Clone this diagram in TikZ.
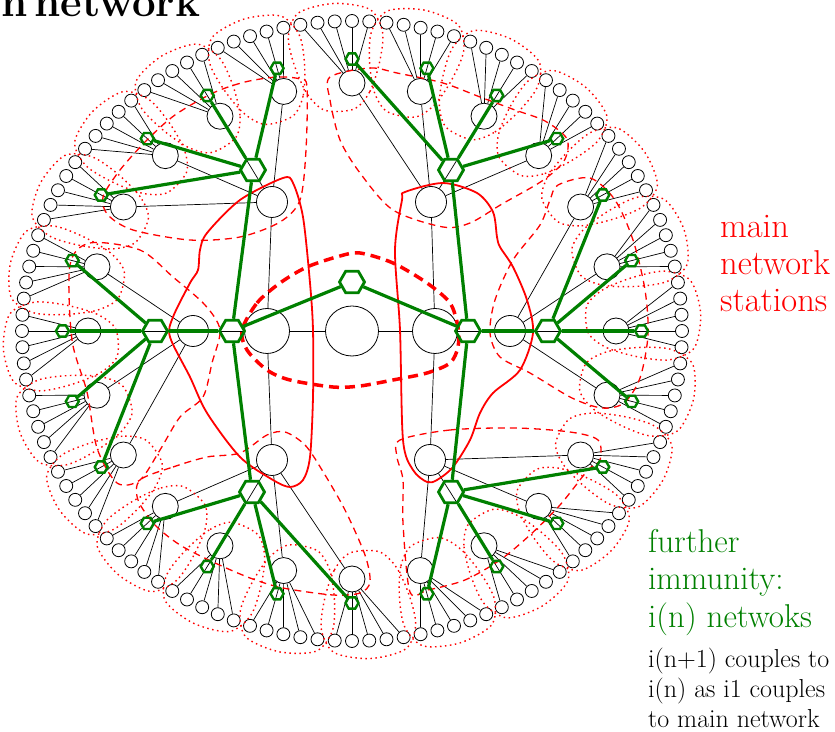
\documentclass[tikz,border=0pt]{standalone}
\usepackage{amsmath,amssymb,amsfonts}
\usepackage{xcolor}
\usepackage{tikz}
\usetikzlibrary{shapes.geometric}

\definecolor{ngreen}{RGB}{0,128,0}
\definecolor{nred}{RGB}{255,0,0}

\begin{document}
\begin{tikzpicture}[x=1pt, y=1pt,
    leaf/.style={circle, draw, fill=white, line width=0.8pt, minimum size=13pt, inner sep=0pt},
    station/.style={circle, draw, fill=white, line width=0.8pt, minimum size=26pt, inner sep=0pt},
    hub/.style={circle, draw, fill=white, line width=0.8pt, minimum size=31pt, inner sep=0pt},
    mainhub/.style={circle, draw, fill=white, line width=0.8pt, minimum size=45pt, inner sep=0pt},
    corenode/.style={ellipse, draw, fill=white, line width=0.8pt, minimum width=53pt, minimum height=50pt, inner sep=0pt},
    link/.style={line width=0.7pt},
    bighex/.style={regular polygon, regular polygon sides=6, draw=ngreen, line width=2.8pt, minimum size=25pt, inner sep=0pt},
    smallhex/.style={regular polygon, regular polygon sides=6, draw=ngreen, line width=2.4pt, minimum size=13pt, inner sep=0pt},
    glink/.style={draw=ngreen, line width=3.2pt},
    petal/.style={draw=nred, line width=1.4pt, dash pattern=on 1.5pt off 3.5pt},
    groupline/.style={draw=nred, line width=1.3pt, dash pattern=on 7pt off 5pt},
    mainline/.style={draw=nred, line width=1.8pt},
    coreline/.style={draw=nred, line width=3.5pt, dash pattern=on 10pt off 6pt},
  ]
  \useasboundingbox (0,0) rectangle (835,731);
  \clip (0,0) rectangle (835,731);

  % title, cut by the page edge
  \node[anchor=base west, inner sep=0pt, font=\fontsize{42}{50}\selectfont\bfseries] (title) at (1,714) {n\kern7pt network};

  \begin{scope}[shift={(352,400)}]
    % leaves and stations on the two rings
    \begin{scope}[xscale=1.0645]
      \foreach \k in {0,...,119}
        \node[leaf] (lf\k) at ({3*\k}:310) {};
      \foreach \j in {0,...,23}
        \node[station] (st\j) at ({15*\j}:248) {};
    \end{scope}

    % main network
    \node[corenode] (core) at (0,0) {};
    \node[mainhub] (mainL) at (-85,0) {};
    \node[mainhub] (mainR) at (83,0) {};
    \node[hub] (hubUL) at (-80,129) {};
    \node[hub] (hubW) at (-159,0) {};
    \node[hub] (hubLL) at (-80,-129) {};
    \node[hub] (hubUR) at (79,129) {};
    \node[hub] (hubE) at (158,0) {};
    \node[hub] (hubLR) at (78,-129) {};

    \draw[link] (core) -- (mainL);
    \draw[link] (core) -- (mainR);
    \draw[link] (mainL) -- (hubUL);
    \draw[link] (mainL) -- (hubW);
    \draw[link] (mainL) -- (hubLL);
    \draw[link] (mainR) -- (hubUR);
    \draw[link] (mainR) -- (hubE);
    \draw[link] (mainR) -- (hubLR);
    \foreach \j in {7,...,10} \draw[link] (hubUL) -- (st\j);
    \foreach \j in {11,...,14} \draw[link] (hubW) -- (st\j);
    \foreach \j in {15,...,18} \draw[link] (hubLL) -- (st\j);
    \foreach \j in {19,...,22} \draw[link] (hubLR) -- (st\j);
    \foreach \j in {23,0,1,2} \draw[link] (hubE) -- (st\j);
    \foreach \j in {3,...,6} \draw[link] (hubUR) -- (st\j);
    \foreach \j in {0,...,23}
      \foreach \d in {-1,...,3} {
        \pgfmathtruncatemacro\k{mod(5*\j+\d+120,120)}
        \draw[link] (st\j) -- (lf\k);
      }

    % stations: petals round each fan
    \begin{scope}[xscale=1.0645]
      \foreach \j in {0,...,23} {
        \pgfmathsetmacro\c{15*\j+3}
        \draw[petal] plot[smooth cycle] coordinates {({\c-3.5}:222) ({\c-7}:240) ({\c-8.5}:270) ({\c-8.5}:300) ({\c-6}:322) (\c:328) ({\c+6}:322) ({\c+8.5}:300) ({\c+8.5}:270) ({\c+7}:240) ({\c+3.5}:222)};
      }
    \end{scope}

    % hub groups
    \draw[groupline] plot[smooth cycle] coordinates {(-45,244) (-46,181) (-52,131) (-72,109) (-112,94) (-162,91) (-219,101) (-244,116) (-249,134) (-232,161) (-205,191) (-177,216) (-139,238) (-107,249) (-75,254) (-52,252)};
    \draw[groupline] plot[smooth cycle] coordinates {(-282,66) (-262,88) (-212,81) (-179,54) (-147,26) (-132,1) (-140,-32) (-149,-66) (-172,-86) (-192,-119) (-212,-149) (-235,-152) (-255,-117) (-265,-61) (-280,-9)};
    \draw[groupline] plot[smooth cycle] coordinates {(-212,-149) (-179,-136) (-145,-126) (-112,-122) (-85,-104) (-67,-101) (-47,-114) (-30,-139) (-7,-179) (13,-224) (18,-251) (8,-262) (-19,-264) (-69,-257) (-102,-247) (-139,-231) (-172,-214) (-197,-194) (-214,-169)};
    \draw[groupline] plot[smooth cycle] coordinates {(-22,254) (18,263) (45,258) (91,248) (128,234) (163,221) (193,210) (215,192) (212,170) (190,150) (150,127) (118,108) (91,104) (41,121) (8,158) (-12,191) (-22,231)};
    \draw[groupline] plot[smooth cycle] coordinates {(206,146) (238,153) (263,131) (281,91) (293,41) (296,-4) (288,-47) (272,-72) (250,-77) (220,-67) (178,-42) (148,-26) (138,-2) (143,31) (161,71) (188,106) (198,131)};
    \draw[groupline] plot[smooth cycle] coordinates {(48,-109) (98,-99) (163,-97) (218,-101) (246,-109) (248,-129) (236,-139) (208,-174) (178,-204) (148,-229) (113,-249) (76,-259) (58,-261) (51,-192) (51,-149) (45,-126)};

    % main stations
    \draw[mainline] plot[smooth cycle] coordinates {(-69,153) (-112,131) (-145,98) (-152,81) (-154,61) (-162,48) (-179,14) (-182,-6) (-162,-46) (-145,-82) (-112,-126) (-79,-149) (-62,-156) (-49,-149) (-42,-126) (-39,-66) (-39,1) (-42,48) (-49,114) (-59,148)};
    \draw[mainline] plot[smooth cycle] coordinates {(53,139) (91,148) (125,138) (141,119) (145,94) (148,84) (161,64) (175,31) (181,-2) (168,-39) (141,-62) (128,-82) (118,-109) (101,-136) (85,-149) (75,-151) (61,-139) (51,-109) (48,1) (43,81) (50,131)};
    \draw[coreline] plot[smooth cycle] coordinates {(-110,1) (-95,28) (-72,48) (-45,64) (-12,75) (8,78) (41,68) (75,48) (98,28) (106,4) (106,-16) (98,-32) (75,-42) (41,-49) (8,-55) (-19,-56) (-62,-49) (-85,-39) (-105,-19)};

    % i(n) network
    \begin{scope}[xscale=1.0645]
      \foreach \j in {0,...,23}
        \node[smallhex] (ih\j) at ({15*\j}:272) {};
    \end{scope}
    \node[bighex] (g0) at (0,49) {};
    \node[bighex] (gL) at (-120,0) {};
    \node[bighex] (gR) at (116,0) {};
    \node[bighex] (gUL) at (-99,161) {};
    \node[bighex] (gW) at (-197,0) {};
    \node[bighex] (gLL) at (-100,-161) {};
    \node[bighex] (gUR) at (99,161) {};
    \node[bighex] (gE) at (196,0) {};
    \node[bighex] (gLR) at (99,-161) {};

    \draw[glink] (g0) -- (gL);
    \draw[glink] (g0) -- (gR);
    \draw[glink] (gL) -- (gUL);
    \draw[glink] (gL) -- (gW);
    \draw[glink] (gL) -- (gLL);
    \draw[glink] (gR) -- (gUR);
    \draw[glink] (gR) -- (gE);
    \draw[glink] (gR) -- (gLR);
    \foreach \j in {7,...,10} \draw[glink] (gUL) -- (ih\j);
    \foreach \j in {11,...,14} \draw[glink] (gW) -- (ih\j);
    \foreach \j in {15,...,18} \draw[glink] (gLL) -- (ih\j);
    \foreach \j in {19,...,22} \draw[glink] (gLR) -- (ih\j);
    \foreach \j in {23,0,1,2} \draw[glink] (gE) -- (ih\j);
    \foreach \j in {3,...,6} \draw[glink] (gUR) -- (ih\j);
  \end{scope}

  % legend
  \node[anchor=base west, inner sep=0pt, text=nred, font=\fontsize{34.5}{40}\selectfont] (lbmain) at (720,493) {main};
  \node[anchor=base west, inner sep=0pt, text=nred, font=\fontsize{34.5}{40}\selectfont] (lbnet) at (720,456) {network};
  \node[anchor=base west, inner sep=0pt, text=nred, font=\fontsize{34.5}{40}\selectfont] (lbsta) at (720,419) {stations};
  \node[anchor=base west, inner sep=0pt, text=ngreen, font=\fontsize{33}{40}\selectfont] (lbfur) at (648,178) {further};
  \node[anchor=base west, inner sep=0pt, text=ngreen, font=\fontsize{33}{40}\selectfont] (lbimm) at (648,141) {immunity:};
  \node[anchor=base west, inner sep=0pt, text=ngreen, font=\fontsize{33}{40}\selectfont] (lbnets) at (648,103) {i(n) netwoks};
  \node[anchor=base west, inner sep=0pt, font=\fontsize{26}{30}\selectfont] (lbc1) at (648,64) {i(n+1) couples to};
  \node[anchor=base west, inner sep=0pt, font=\fontsize{26}{30}\selectfont] (lbc2) at (648,34) {i(n) as i1 couples};
  \node[anchor=base west, inner sep=0pt, font=\fontsize{26}{30}\selectfont] (lbc3) at (648,4) {to main network};
\end{tikzpicture}
\end{document}
